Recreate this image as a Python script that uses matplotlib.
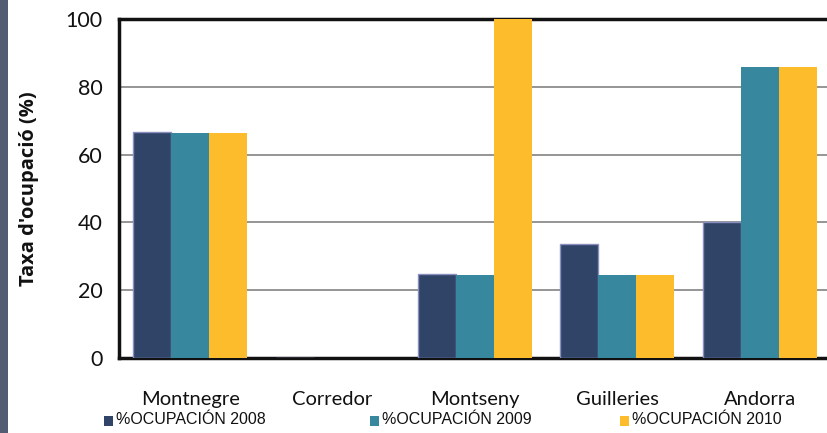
import matplotlib
matplotlib.use("Agg")
import matplotlib.pyplot as plt
from matplotlib.patches import Rectangle
import numpy as np

categories = ["Montnegre", "Corredor", "Montseny", "Guilleries", "Andorra"]
series_names = ["%OCUPACIÓN 2008", "%OCUPACIÓN 2009", "%OCUPACIÓN 2010"]
v2008 = [66.7, 0, 24.8, 33.6, 40.1]
v2009 = [66.4, 0, 24.5, 24.5, 85.8]
v2010 = [66.4, 0, 100, 24.5, 85.8]
yticks = [0, 20, 40, 60, 80, 100]

colors = ["#2f4466", "#37889e", "#fdbc2c"]
edges = ["#8a8fc0", "none", "none"]

W, H = 828, 433
fig = plt.figure(figsize=(W / 100, H / 100), dpi=100)
fig.patch.set_facecolor("white")

# left decorative stripe
fig.patches.append(Rectangle((0, 0), 8 / W, 1, transform=fig.transFigure,
                             facecolor="#525c72", edgecolor="none", zorder=0))

ax = fig.add_axes([119 / W, 1 - 358 / H, 712 / W, (358 - 19) / H])
x = np.arange(len(categories))
bw = 0.267
for i, vals in enumerate([v2008, v2009, v2010]):
    ax.bar(x + (i - 1) * bw, vals, width=bw, color=colors[i],
           edgecolor=edges[i], linewidth=1.0 if edges[i] != "none" else 0,
           zorder=3)

ax.set_xlim(-0.5, 4.5)
ax.set_ylim(0, 100)
ax.set_yticks(yticks)
ax.set_yticklabels([str(t) for t in yticks])
ax.set_xticks(x)
ax.set_xticklabels(categories)
ax.yaxis.grid(True, color="#8c8c8c", linewidth=1.3, zorder=0)
ax.set_axisbelow(True)
ax.tick_params(axis="both", length=0)
ax.tick_params(axis="x", pad=24, labelsize=14.5)
ax.tick_params(axis="y", pad=12, labelsize=15.5)
for lab in ax.get_xticklabels() + ax.get_yticklabels():
    lab.set_family(["Lato", "DejaVu Sans"])
    lab.set_color("#111111")

for s in ["left", "bottom", "top"]:
    ax.spines[s].set_linewidth(2.5)
    ax.spines[s].set_color("#111111")
ax.spines["right"].set_visible(False)

ax.set_ylabel("Taxa d'ocupació (%)", fontsize=14.5, fontweight="bold",
              family=["Open Sans", "DejaVu Sans"], labelpad=19, color="#111111")

# legend row
leg_x = [104, 370, 620]
for i, name in enumerate(series_names):
    fig.patches.append(Rectangle((leg_x[i] / W, 1 - 426 / H), 9 / W, 10 / H,
                                 transform=fig.transFigure, facecolor=colors[i],
                                 edgecolor="none"))
    fig.text((leg_x[i] + 12) / W, 1 - 420 / H, name, fontsize=11.5,
             family=["Liberation Sans", "DejaVu Sans"],
             va="center", ha="left", color="#111111")

fig.savefig("out.png", dpi=100)
